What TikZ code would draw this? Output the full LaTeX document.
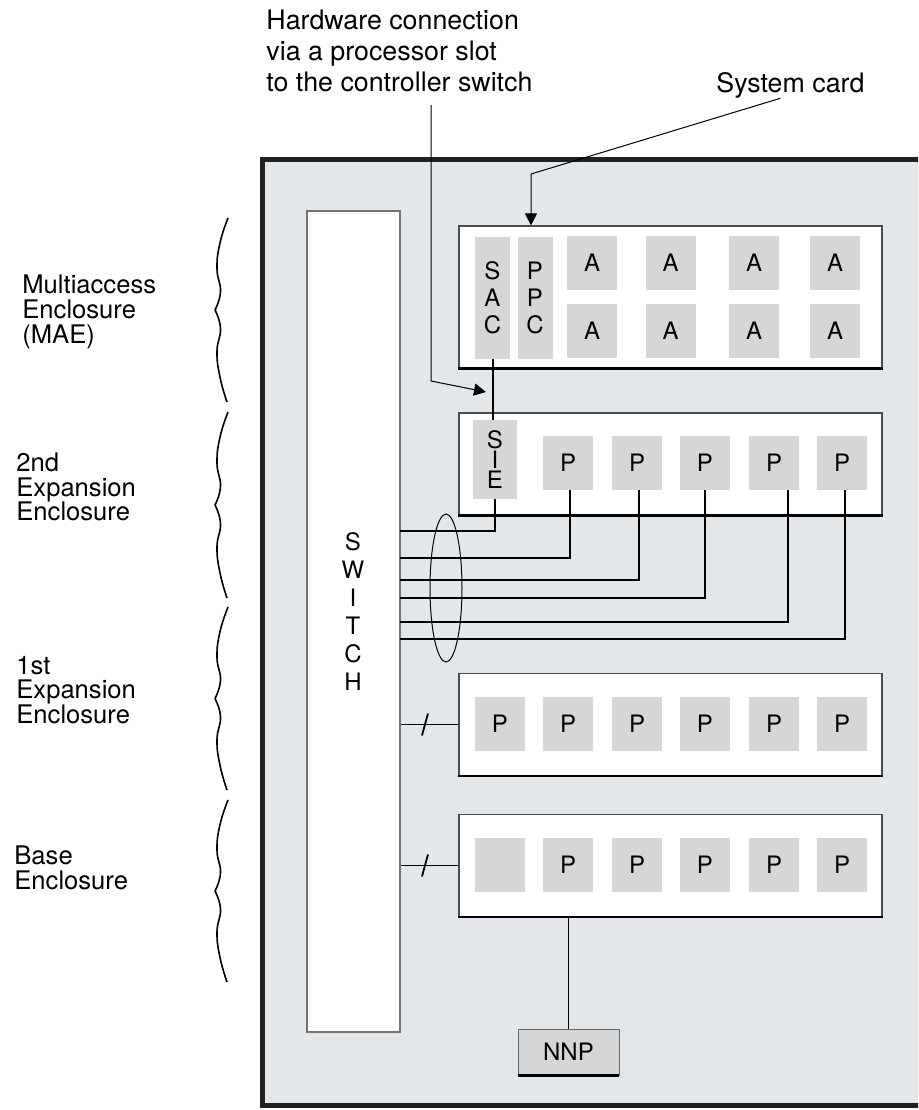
\documentclass[tikz,border=0pt]{standalone}
\usepackage{fontspec}
\setmainfont{TeX Gyre Heros}
\usetikzlibrary{arrows.meta,shapes.geometric}
\definecolor{chassis}{HTML}{E4E7EA}
\definecolor{slot}{HTML}{D5D6D8}
\definecolor{rim}{HTML}{231F20}
\tikzset{
  encl/.style={draw=black!70, line width=0.6pt, fill=white, minimum width=211.5pt, minimum height=51pt, inner sep=0pt},
  card/.style={fill=slot, minimum width=25pt, minimum height=27pt, inner sep=0pt},
  tallcard/.style={fill=slot, minimum width=17.5pt, minimum height=61pt, inner sep=0pt, align=center, font=\fontsize{12}{13.5}\selectfont},
  wire/.style={line width=0.7pt},
  leader/.style={line width=0.5pt, -{Triangle[length=6pt,width=6pt]}},
  brace/.style={line width=0.8pt},
  lbl/.style={align=left, anchor=west, inner sep=0pt, font=\fontsize{12.8}{12.4}\selectfont},
  callout/.style={align=left, inner sep=0pt, font=\fontsize{13.4}{15.5}\selectfont},
}
\begin{document}
\begin{tikzpicture}[x=0.5pt,y=-0.5pt,font=\fontsize{12}{12}\selectfont]
  \useasboundingbox (0,0) rectangle (918,1110);
  \clip (0,0) rectangle (918,1110);
  %% Chassis
  \filldraw[fill=chassis, draw=rim, line width=2.5pt] (940,159) -- (262,159) -- (262,1105) -- (940,1105);
  %% Switch
  \node[draw=black!55, line width=0.8pt, fill=white, minimum width=46.5pt, minimum height=410.5pt, inner sep=0pt] (switch) at (353.5,621.5) {};
  \node[align=center, font=\fontsize{12}{14}\selectfont] (swtext) at (353,612) {S\\W\\I\\T\\C\\H};
  %% Enclosures
  \node[encl, minimum height=71pt] (mae) at (670.5,297) {};
  \node[encl] (exp2) at (670.5,464) {};
  \node[encl] (exp1) at (670.5,724.5) {};
  \node[encl] (base) at (670.5,865.5) {};
  \foreach \n in {mae,exp2,exp1,base}
    \draw[line width=1.3pt] (\n.south west) -- (\n.south east);
  %% MAE cards
  \node[tallcard] (sac) at (492.5,298) {S\\A\\C};
  \node[tallcard] (ppc) at (535,298) {P\\P\\C};
  \foreach \x [count=\i] in {592,670.5,754,835} {
    \node[card] (at\i) at (\x,263) {A};
    \node[card] (ab\i) at (\x,331) {A};
  }
  %% Expansion and base cards
  \node[tallcard, minimum width=22pt, minimum height=39.5pt, font=\fontsize{12}{10}\selectfont] (sie) at (495,459.5) {S\\I\\E};
  \foreach \x [count=\i] in {568,637,705,774,842}
    \node[card] (ea\i) at (\x,463) {P};
  \foreach \x [count=\i] in {500,568,637,705,774,842} {
    \node[card] (eb\i) at (\x,724) {P};
    \node[card] (bs\i) at (\x,865) {\ifnum\i>1 P\fi};
  }
  %% NNP
  \node[draw=black!60, fill=slot, minimum width=50.5pt, minimum height=23pt, inner sep=0pt] (nnp) at (568.5,1052) {NNP};
  \draw[line width=1.2pt] (nnp.south west) -- (nnp.south east);
  \draw[wire] (nnp.north |- base.south) -- (nnp.north);
  %% Switch links
  \foreach \n/\y in {1/531,2/558,3/580,4/598,5/622,6/639}
    \coordinate (w\n) at (400,\y);
  \draw[line width=1pt] (sac.south) -- (sac.south |- sie.north);
  \draw[line width=1pt] (sie.south) |- (w1);
  \draw[wire] ([xshift=1pt]ea1.south) |- (w2);
  \draw[wire] ([xshift=1pt]ea2.south) |- (w3);
  \draw[wire] (ea3.south) |- (w4);
  \draw[wire] ([xshift=7pt]ea4.south) |- (w5);
  \draw[wire] ([xshift=1.5pt]ea5.south) |- (w6);
  \node[draw, ellipse, line width=0.5pt, minimum width=16pt, minimum height=74pt, inner sep=0pt] (bundle) at (446,588) {};
  \draw[wire] (switch.east |- exp1.west) -- (exp1.west) coordinate[pos=0.42] (cut1);
  \draw[line width=0.9pt] ([shift={(-3,11)}]cut1) -- ([shift={(3,-11)}]cut1);
  \draw[wire] (switch.east |- base.west) -- (base.west) coordinate[pos=0.42] (cut2);
  \draw[line width=0.9pt] ([shift={(-3,11)}]cut2) -- ([shift={(3,-11)}]cut2);
  %% Callouts
  \node[callout, anchor=south west] (hwtext) at (266,92) {Hardware connection\\via a processor slot\\to the controller switch};
  \coordinate (hwfoot) at (431,105);
  \coordinate (hwtip) at (486,392);
  \draw[leader] (hwfoot) -- ++(0,276) -- (hwtip);
  \node[callout, anchor=base west] (systext) at (716,92) {System card};
  \draw[leader] ([xshift=-5pt]systext.south) -- (531,174) -- ([xshift=-2pt]ppc.north |- mae.north);
  %% Braces
  \foreach \t/\b in {218/402,412/598,607/790,800/982} {
    \pgfmathsetmacro\h{(\b-\t)/2}
    \pgfmathsetmacro\m{\t+\h}
    \draw[brace] plot[smooth, tension=0.8] coordinates {(228,\t) (220,{\t+0.27*\h}) (217,{\t+0.55*\h}) (220.5,{\t+0.8*\h}) (215,\m)};
    \draw[brace] plot[smooth, tension=0.8] coordinates {(215,\m) (220.5,{\m+0.2*\h}) (217,{\m+0.45*\h}) (220,{\m+0.73*\h}) (227,\b)};
  }
  %% Enclosure labels
  \node[lbl] (maelbl) at (22,312) {Multiaccess\\Enclosure\\(MAE)};
  \node[lbl] (exp2lbl) at (16,487) {2nd\\Expansion\\Enclosure};
  \node[lbl] (exp1lbl) at (16,690) {1st\\Expansion\\Enclosure};
  \node[lbl] (baselbl) at (14,868) {Base\\Enclosure};
\end{tikzpicture}
\end{document}
